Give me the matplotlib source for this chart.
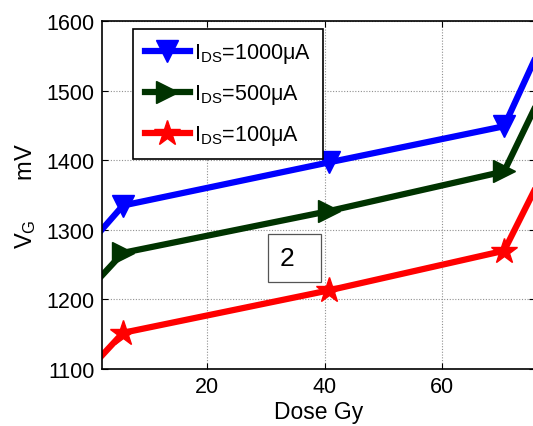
import matplotlib
matplotlib.use("Agg")
import matplotlib.pyplot as plt

plt.rcParams["font.family"] = ["Liberation Sans", "DejaVu Sans"]

# dose (Gy); first and last points lie outside the visible range
dose = [0, 5.6, 40.7, 70.6, 80]
vg_1000 = [1281, 1335, 1397, 1449, 1622]
vg_500 = [1216, 1267, 1327, 1384, 1548]
vg_100 = [1101, 1152, 1213, 1270, 1428]
labels = [r"$\mathregular{I_{DS}}$=1000μA",
          r"$\mathregular{I_{DS}}$=500μA",
          r"$\mathregular{I_{DS}}$=100μA"]
xticks = [20, 40, 60]
yticks = [1100, 1200, 1300, 1400, 1500, 1600]

fig = plt.figure(figsize=(5.33, 4.27), dpi=100)
ax = fig.add_axes([0.191, 0.1335, 0.812, 0.8145])

series = [(vg_1000, "#0000ff", "v"), (vg_500, "#003300", ">"), (vg_100, "#ff0000", "*")]
for (vals, col, mk), lab in zip(series, labels):
    ax.plot(dose, vals, color=col, lw=4.5, marker=mk, ms=16 if mk != "*" else 19,
            markevery=[1, 2, 3], label=lab)

ax.set_xlim(2, 75.8)
ax.set_ylim(1100, 1600)
ax.set_xticks(xticks)
ax.set_yticks(yticks)
ax.tick_params(direction="in", labelsize=15.5, length=4, top=True, right=True, pad=5)
ax.grid(True, color="#909090", ls=(0, (1, 1.5)), lw=0.8)
for s in ax.spines.values():
    s.set_linewidth(1.2)
ax.spines["right"].set_visible(False)

ax.set_xlabel("Dose Gy", fontsize=16.5, labelpad=2)
ax.set_ylabel(r"$\mathregular{V_G}$      mV", fontsize=17, labelpad=6)

leg = ax.legend(loc="upper left", bbox_to_anchor=(0.072, 0.977), borderaxespad=0,
                fontsize=15.5, handlelength=2.1, handletextpad=0.2, labelspacing=0.8,
                fancybox=False, framealpha=1, edgecolor="black", borderpad=0.55)
leg.get_frame().set_linewidth(1.2)

ax.text(34.9, 1260, "2  ", fontsize=19, ha="center", va="center",
        bbox=dict(boxstyle="square,pad=0.45", fc="white", ec="#555555", lw=0.9))

fig.savefig("out.png", dpi=100)
